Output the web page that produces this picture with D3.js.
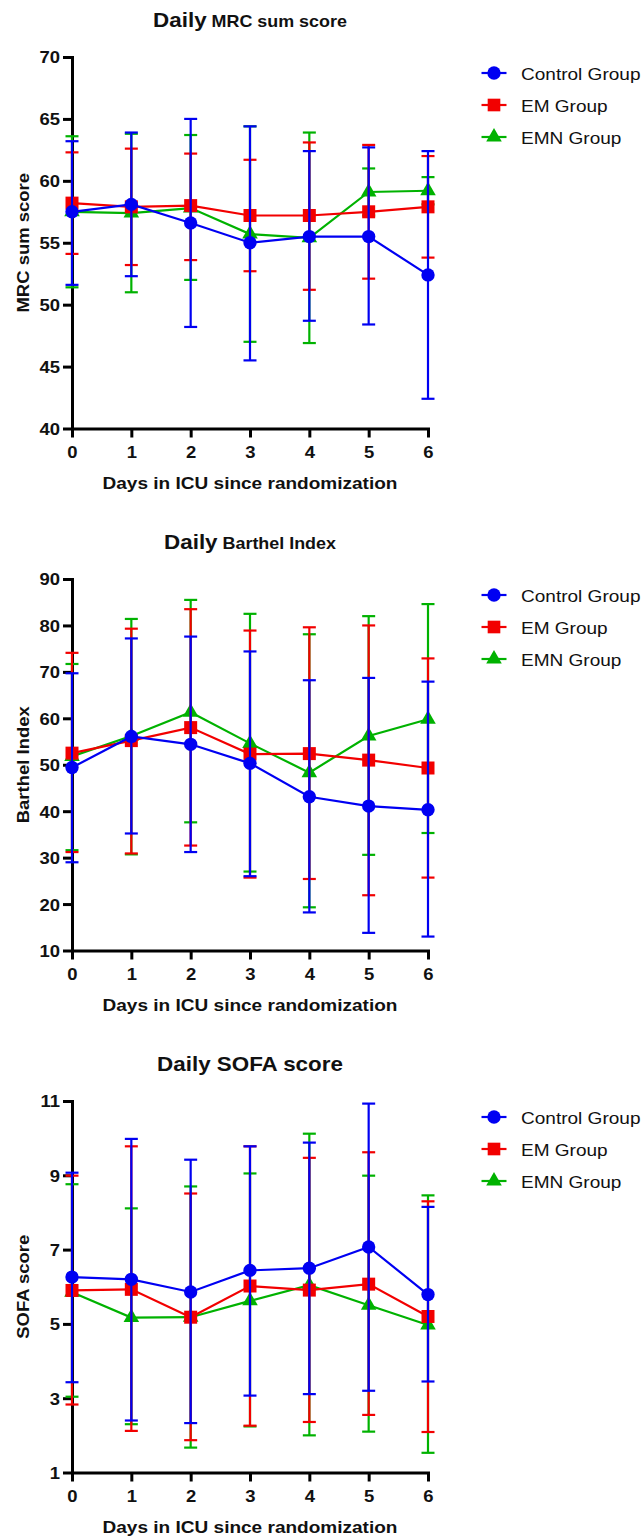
<!DOCTYPE html>
<html>
<head>
<meta charset="utf-8">
<script src="https://cdn.jsdelivr.net/npm/d3@7"></script>
<style>
  body { margin: 0; background: #fff; }
  svg { display: block; font-family: "Liberation Sans", Arial, sans-serif; }
</style>
</head>
<body>
<div id="chart"></div>
<script>
var W = 642, H = 1536;
var SX = 1.12; // glyphs in the original are a bit wider than Arial

//Categories and legend
var days = [0, 1, 2, 3, 4, 5, 6];
var groupNames = ["Control Group", "EM Group", "EMN Group"];
var groupColors = ["#0000f2", "#f20000", "#00b200"];
var groupShapes = [d3.symbolCircle, d3.symbolSquare, d3.symbolTriangle];

//MRC sum score (mean, upper and lower end of error bar)
var mrcControl   = [57.5, 58.1, 56.6, 55.0, 55.5, 55.5, 52.4];
var mrcControlHi = [63.2, 63.9, 65.0, 64.4, 62.4, 62.7, 62.4];
var mrcControlLo = [51.6, 52.3, 48.2, 45.5, 48.7, 48.4, 42.4];
var mrcEM        = [58.2, 57.9, 58.0, 57.2, 57.2, 57.5, 57.9];
var mrcEMHi      = [62.3, 62.6, 62.2, 61.7, 63.1, 62.9, 62.0];
var mrcEMLo      = [54.1, 53.2, 53.6, 52.7, 51.2, 52.1, 53.8];
var mrcEMN       = [57.5, 57.4, 57.8, 55.7, 55.4, 59.1, 59.2];
var mrcEMNHi     = [63.6, 63.8, 63.7, 64.4, 63.9, 61.0, 60.3];
var mrcEMNLo     = [51.4, 51.0, 52.0, 47.0, 46.9, 57.2, 58.1];
var mrcTicks     = [40, 45, 50, 55, 60, 65, 70];

//Barthel Index
var bartControl   = [49.4, 56.1, 54.4, 50.3, 43.1, 41.1, 40.3];
var bartControlHi = [69.7, 77.2, 77.6, 74.4, 68.2, 68.7, 67.9];
var bartControlLo = [29.0, 35.2, 31.2, 26.0, 18.2, 13.8, 13.0];
var bartEM        = [52.5, 55.2, 58.0, 52.3, 52.4, 51.0, 49.3];
var bartEMHi      = [74.1, 79.3, 83.5, 78.9, 79.6, 80.0, 72.9];
var bartEMLo      = [31.2, 30.9, 32.6, 25.7, 25.4, 21.9, 25.7];
var bartEMN       = [51.8, 56.2, 61.3, 54.6, 48.3, 56.2, 59.8];
var bartEMNHi     = [71.7, 81.4, 85.5, 82.5, 78.1, 82.0, 84.6];
var bartEMNLo     = [31.6, 30.7, 37.6, 27.0, 19.3, 30.6, 35.3];
var bartTicks     = [10, 20, 30, 40, 50, 60, 70, 80, 90];

//SOFA score
var sofaControl   = [6.26, 6.20, 5.86, 6.44, 6.50, 7.07, 5.79];
var sofaControlHi = [9.07, 9.98, 9.42, 9.78, 9.88, 10.93, 8.15];
var sofaControlLo = [3.43, 2.40, 2.33, 3.07, 3.11, 3.20, 3.45];
var sofaEM        = [5.90, 5.93, 5.18, 6.02, 5.91, 6.07, 5.20];
var sofaEMHi      = [8.99, 9.78, 8.51, 9.78, 9.47, 9.62, 8.30];
var sofaEMLo      = [2.83, 2.12, 1.87, 2.26, 2.36, 2.55, 2.09];
var sofaEMN       = [5.85, 5.17, 5.18, 5.62, 6.04, 5.50, 4.97];
var sofaEMNHi     = [8.76, 8.11, 8.70, 9.05, 10.12, 8.99, 8.46];
var sofaEMNLo     = [3.04, 2.30, 1.67, 2.24, 2.00, 2.10, 1.53];
var sofaTicks     = [1, 3, 5, 7, 9, 11];

var panels = [
  { top: 57, big: "Daily", small: " MRC sum score", smallSize: 16, ylabel: "MRC sum score",
    ticks: mrcTicks,
    series: [[mrcControl, mrcControlHi, mrcControlLo], [mrcEM, mrcEMHi, mrcEMLo], [mrcEMN, mrcEMNHi, mrcEMNLo]] },
  { top: 579, big: "Daily", small: " Barthel Index", smallSize: 16, ylabel: "Barthel Index",
    ticks: bartTicks,
    series: [[bartControl, bartControlHi, bartControlLo], [bartEM, bartEMHi, bartEMLo], [bartEMN, bartEMNHi, bartEMNLo]] },
  { top: 1101, big: "Daily", small: " SOFA score", smallSize: 20, ylabel: "SOFA score",
    ticks: sofaTicks,
    series: [[sofaControl, sofaControlHi, sofaControlLo], [sofaEM, sofaEMHi, sofaEMLo], [sofaEMN, sofaEMNHi, sofaEMNLo]] }
];

var left = 72, right = 428, plotH = 371.5;
var capW = 13;

var svg = d3.select("#chart").append("svg")
  .attr("width", W)
  .attr("height", H);

var x = d3.scaleLinear().domain([0, 6]).range([left, right]);

panels.forEach(function(p) {
  var bottom = p.top + plotH;
  var y = d3.scaleLinear().domain(d3.extent(p.ticks)).range([bottom, p.top]);
  var g = svg.append("g");

  //Title
  var title = g.append("text")
    .attr("transform", "translate(" + (left + right) / 2 + "," + (p.top - 30.5) + ") scale(" + SX + ",1)")
    .attr("text-anchor", "middle")
    .attr("font-weight", "bold")
    .attr("fill", "#111");
  title.append("tspan").attr("font-size", 20).text(p.big);
  title.append("tspan").attr("font-size", p.smallSize).text(p.small);

  //Axes
  var yAxis = g.append("g")
    .attr("transform", "translate(" + left + ",0)")
    .call(d3.axisLeft(y).tickValues(p.ticks).tickSize(9).tickSizeOuter(0));
  var xAxis = g.append("g")
    .attr("transform", "translate(0," + bottom + ")")
    .call(d3.axisBottom(x).tickValues(days).tickSize(9).tickSizeOuter(0).tickFormat(d3.format("d")));

  [yAxis, xAxis].forEach(function(a) {
    a.select(".domain").attr("stroke", "#000").attr("stroke-width", 3).attr("stroke-linecap", "square");
    a.selectAll(".tick line").attr("stroke", "#000").attr("stroke-width", 3);
    a.selectAll(".tick text")
      .attr("fill", "#111")
      .attr("font-size", 16.5)
      .attr("font-weight", "bold")
      .attr("font-family", "'Liberation Sans', Arial, sans-serif")
      .attr("transform", "scale(" + SX + ",1)");
  });
  yAxis.selectAll(".tick text").attr("x", -12 / SX).attr("dy", "0.36em");
  xAxis.selectAll(".tick text").attr("y", 30).attr("dy", 0);

  //Axis titles
  g.append("text")
    .attr("transform", "translate(" + (left + right) / 2 + "," + (bottom + 60) + ") scale(" + SX + ",1)")
    .attr("text-anchor", "middle")
    .attr("font-size", 17)
    .attr("font-weight", "bold")
    .attr("fill", "#111")
    .text("Days in ICU since randomization");

  g.append("text")
    .attr("transform", "translate(28.5," + (p.top + bottom) / 2 + ") rotate(-90) scale(" + SX + ",1)")
    .attr("text-anchor", "middle")
    .attr("font-size", 16.5)
    .attr("font-weight", "bold")
    .attr("fill", "#111")
    .text(p.ylabel);

  //Series: green first, then red, blue on top
  [2, 1, 0].forEach(function(k) {
    var s = p.series[k];
    var col = groupColors[k];
    var pts = days.map(function(d, i) { return { day: d, m: s[0][i], hi: s[1][i], lo: s[2][i] }; });
    var sg = g.append("g");

    var eb = sg.selectAll(".eb").data(pts).enter().append("g").attr("class", "eb")
      .attr("stroke", col).attr("stroke-width", 2.2).attr("fill", "none");
    eb.append("line")
      .attr("x1", function(d) { return x(d.day); }).attr("x2", function(d) { return x(d.day); })
      .attr("y1", function(d) { return y(d.hi); }).attr("y2", function(d) { return y(d.lo); });
    eb.append("line")
      .attr("x1", function(d) { return x(d.day) - capW / 2; }).attr("x2", function(d) { return x(d.day) + capW / 2; })
      .attr("y1", function(d) { return y(d.hi); }).attr("y2", function(d) { return y(d.hi); });
    eb.append("line")
      .attr("x1", function(d) { return x(d.day) - capW / 2; }).attr("x2", function(d) { return x(d.day) + capW / 2; })
      .attr("y1", function(d) { return y(d.lo); }).attr("y2", function(d) { return y(d.lo); });

    sg.append("path")
      .datum(pts)
      .attr("fill", "none")
      .attr("stroke", col)
      .attr("stroke-width", 2.2)
      .attr("d", d3.line().x(function(d) { return x(d.day); }).y(function(d) { return y(d.m); }));

    var sym = d3.symbol().type(groupShapes[k]).size(k == 0 ? 140 : k == 1 ? 169 : 105);
    sg.selectAll(".pt").data(pts).enter().append("path")
      .attr("class", "pt")
      .attr("transform", function(d) { return "translate(" + x(d.day) + "," + y(d.m) + ")"; })
      .attr("d", sym)
      .attr("fill", col);
  });

  //Legend
  var legend = g.append("g").attr("transform", "translate(0," + (p.top + 16) + ")");
  groupNames.forEach(function(name, i) {
    var ly = i * 32;
    legend.append("line")
      .attr("x1", 481.5).attr("x2", 506.5)
      .attr("y1", ly).attr("y2", ly)
      .attr("stroke", groupColors[i]).attr("stroke-width", 2.2);
    legend.append("path")
      .attr("transform", "translate(494," + ly + ")")
      .attr("d", d3.symbol().type(groupShapes[i]).size(i == 0 ? 140 : i == 1 ? 160 : 105))
      .attr("fill", groupColors[i]);
    legend.append("text")
      .attr("transform", "translate(521," + (ly + 6.5) + ") scale(" + SX + ",1)")
      .attr("font-size", 17)
      .attr("fill", "#111")
      .text(name);
  });
});
</script>
</body>
</html>
